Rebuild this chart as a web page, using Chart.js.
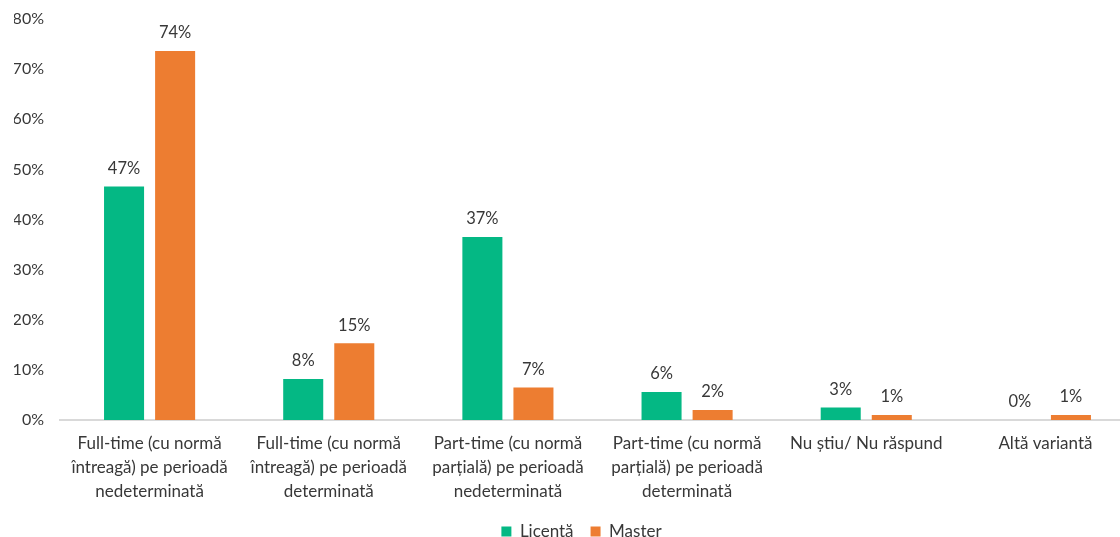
<!DOCTYPE html>
<html>
<head>
<meta charset="utf-8">
<script src="https://cdn.jsdelivr.net/npm/chart.js@4"></script>
<style>
  html, body { margin: 0; padding: 0; background: #fff; overflow: hidden; }
  /* the plot runs a little past the right edge, as in the original */
  #wrap { width: 1135px; height: 537px; }
</style>
</head>
<body>
<div id="wrap"><canvas id="barChart"></canvas></div>
<script>
const categories = [
    ['Full-time (cu normă', 'întreagă) pe perioadă', 'nedeterminată'],
    ['Full-time (cu normă', 'întreagă) pe perioadă', 'determinată'],
    ['Part-time (cu normă', 'parțială) pe perioadă', 'nedeterminată'],
    ['Part-time (cu normă', 'parțială) pe perioadă', 'determinată'],
    'Nu știu/ Nu răspund',
    'Altă variantă'
];
const licenta = [46.6, 8.2, 36.5, 5.6, 2.5, 0];
const master = [73.6, 15.3, 6.5, 2.0, 1.0, 1.0];
const yTicks = [0, 10, 20, 30, 40, 50, 60, 70, 80];

const textColor = '#383838';
const fontFamily = 'Lato, "Open Sans", sans-serif';

// simple value labels above each bar
const barLabels = {
    id: 'barLabels',
    afterDatasetsDraw(chart) {
        const ctx = chart.ctx;
        ctx.save();
        ctx.font = '16.5px ' + fontFamily;
        ctx.fillStyle = textColor;
        ctx.textAlign = 'center';
        ctx.textBaseline = 'middle';
        chart.data.datasets.forEach((ds, i) => {
            chart.getDatasetMeta(i).data.forEach((bar, j) => {
                ctx.fillText(Math.round(ds.data[j]) + '%', bar.x, bar.y - 18);
            });
        });
        ctx.restore();
    }
};

// nudge the legend so it is centred on the visible part
const legendShift = {
    id: 'legendShift',
    afterLayout(chart) {
        chart.legend.left += 7;
        chart.legend.right += 7;
    }
};

new Chart(document.getElementById('barChart'), {
    type: 'bar',
    data: {
        labels: categories,
        datasets: [{
            label: 'Licentă',
            data: licenta,
            backgroundColor: '#04B884',
            categoryPercentage: 0.57,
            barPercentage: 0.784
        }, {
            label: 'Master',
            data: master,
            backgroundColor: '#ED7D31',
            categoryPercentage: 0.57,
            barPercentage: 0.784
        }]
    },
    options: {
        responsive: true,
        maintainAspectRatio: false,
        animation: false,
        layout: { padding: { top: 19, left: 14, right: 0, bottom: -13 } },
        plugins: {
            legend: {
                position: 'bottom',
                labels: {
                    boxWidth: 10,
                    boxHeight: 10,
                    padding: 17,
                    color: textColor,
                    font: { family: fontFamily, size: 17 }
                }
            },
            tooltip: { enabled: false }
        },
        scales: {
            x: {
                grid: { display: false, drawTicks: false },
                border: { color: '#d9d9d9', width: 2 },
                afterFit(scale) { scale.height -= 10; },
                ticks: {
                    color: textColor,
                    padding: 12,
                    maxRotation: 0,
                    autoSkip: false,
                    font: { family: fontFamily, size: 17, lineHeight: 24 / 17 }
                }
            },
            y: {
                min: 0,
                max: 80,
                grid: { display: false, drawTicks: false },
                border: { display: false },
                afterFit(scale) {
                    scale.width = 46;
                    scale.paddingTop = 0;
                },
                afterBuildTicks(scale) { scale.ticks = yTicks.map(v => ({ value: v })); },
                ticks: {
                    color: textColor,
                    padding: 16,
                    font: { family: fontFamily, size: 16 },
                    callback: v => v + '%'
                }
            }
        }
    },
    plugins: [barLabels, legendShift]
});
</script>
</body>
</html>
